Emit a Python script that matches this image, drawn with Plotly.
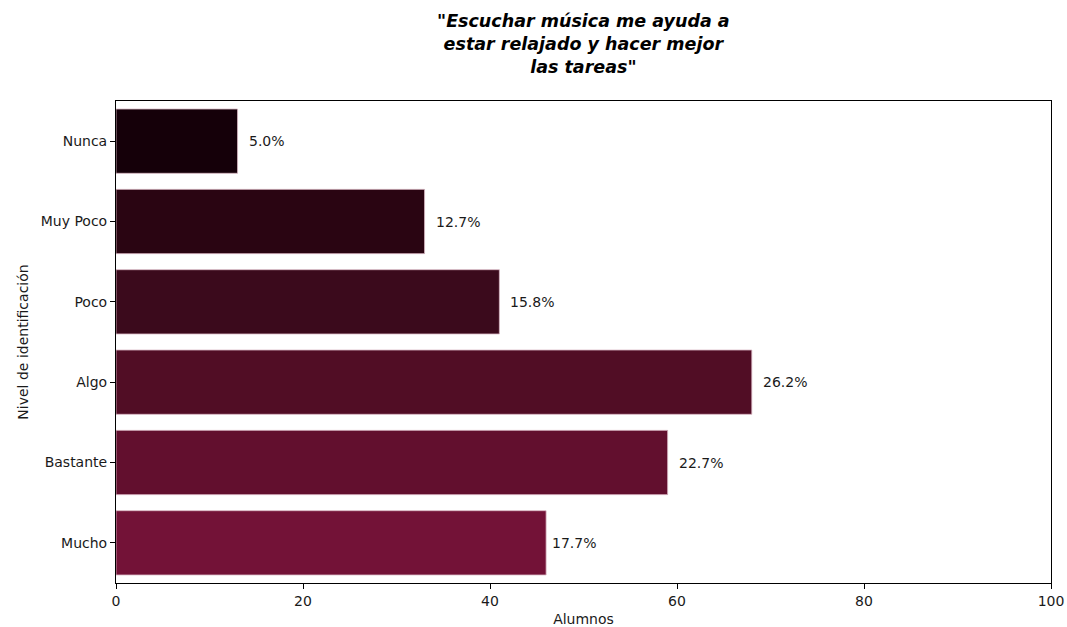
import plotly.graph_objects as go

# Survey responses (number of students per identification level)
niveles = ["Nunca", "Muy Poco", "Poco", "Algo", "Bastante", "Mucho"]
alumnos = [13, 33, 41, 68, 59, 46]
colores = ["#150009", "#2a0512", "#3b0a1c", "#510d25", "#620f2e", "#731237"]

total = sum(alumnos)
porcentajes = [f"{100 * a / total:.1f}%" for a in alumnos]

FONT = "DejaVu Sans"
PLOT_TOP, PLOT_BOTTOM = 101, 583
PLOT_H = PLOT_BOTTOM - PLOT_TOP

fig = go.Figure()
fig.add_trace(go.Bar(
    x=alumnos,
    y=niveles,
    orientation="h",
    width=0.8,
    marker=dict(color=colores, line=dict(color="#d9b8c4", width=0.8)),
    hoverinfo="skip",
))

# Percentage labels just past the end of each bar
for i, (nivel, a, p) in enumerate(zip(niveles, alumnos, porcentajes)):
    fig.add_annotation(
        x=a, y=nivel, text=p, showarrow=False,
        xanchor="left", yanchor="middle",
        xshift=4 if i == len(niveles) - 1 else 9,
        font=dict(family=FONT, size=14, color="#1a1a1a"),
    )

# Title (three centered lines, bold italic text between upright quotes)
fig.add_annotation(
    xref="paper", yref="paper",
    x=0.5, y=1 + (PLOT_TOP - 9) / PLOT_H,
    xanchor="center", yanchor="top",
    text='<b>"<i>Escuchar música me ayuda a<br>estar relajado y hacer mejor<br>las tareas</i>"</b>',
    showarrow=False, align="center",
    font=dict(family=FONT, size=17.5, color="black"),
)

fig.update_layout(
    width=1067, height=627,
    margin=dict(l=116, r=16, t=PLOT_TOP, b=627 - PLOT_BOTTOM, autoexpand=False),
    paper_bgcolor="white", plot_bgcolor="white",
    showlegend=False,
    font=dict(family=FONT, size=14, color="#1a1a1a"),
)

fig.update_xaxes(
    range=[0, 100], tickvals=[0, 20, 40, 60, 80, 100],
    showgrid=False, zeroline=False, automargin=False,
    showline=True, linecolor="black", linewidth=1, mirror=True,
    ticks="outside", ticklen=5, tickcolor="black",
    tickfont=dict(size=14),
    title=dict(text="Alumnos", standoff=6, font=dict(size=14)),
)
fig.update_yaxes(
    categoryorder="array", categoryarray=niveles,
    range=[5.5, -0.5], automargin=False,
    showgrid=False, zeroline=False,
    showline=True, linecolor="black", linewidth=1, mirror=True,
    ticks="outside", ticklen=5, tickcolor="black",
    tickfont=dict(size=14),
    title=dict(text="Nivel de identificación", standoff=8, font=dict(size=14)),
)

fig.write_html("out.html")
